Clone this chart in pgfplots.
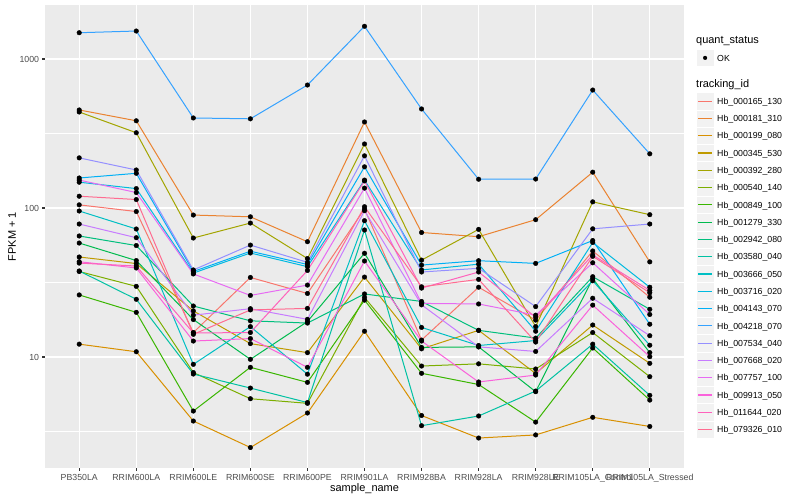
\documentclass[border=0pt]{standalone}
\usepackage{fontspec}
\setmainfont{Liberation Sans}
\usepackage{pgfplots}
\usepackage{pgfplotstable}
\pgfplotsset{compat=1.18}

% ggplot hue palette, 20 levels
\definecolor{c1}{HTML}{F8766D}
\definecolor{c2}{HTML}{EA8331}
\definecolor{c3}{HTML}{D89000}
\definecolor{c4}{HTML}{C09B00}
\definecolor{c5}{HTML}{A3A500}
\definecolor{c6}{HTML}{7CAE00}
\definecolor{c7}{HTML}{39B600}
\definecolor{c8}{HTML}{00BB4E}
\definecolor{c9}{HTML}{00BF7D}
\definecolor{c10}{HTML}{00C1A3}
\definecolor{c11}{HTML}{00BFC4}
\definecolor{c12}{HTML}{00BAE0}
\definecolor{c13}{HTML}{00B0F6}
\definecolor{c14}{HTML}{35A2FF}
\definecolor{c15}{HTML}{9590FF}
\definecolor{c16}{HTML}{C77CFF}
\definecolor{c17}{HTML}{E76BF3}
\definecolor{c18}{HTML}{FA62DB}
\definecolor{c19}{HTML}{FF62BC}
\definecolor{c20}{HTML}{FF6C91}
\definecolor{panelbg}{HTML}{EBEBEB}
\definecolor{keybg}{HTML}{F2F2F2}
\definecolor{txtgrey}{HTML}{4D4D4D}
\definecolor{tickgrey}{HTML}{333333}

% FPKM + 1, one row per sample, one column per tracking_id
\pgfplotstableread{
x S1 S2 S3 S4 S5 S6 S7 S8 S9 S10 S11 S12 S13 S14 S15 S16 S17 S18 S19 S20
0 105 455 12.2 46.9 441 37.5 26.1 58.2 64.9 37.8 95.5 149 159 1501 217 78.1 154 43.6 42.7 120
1 94.7 385 10.85 42.4 320 29.8 19.95 44.4 56.0 24.4 72.3 135 171 1541 180 63.2 127 39.6 40.8 114
2 14.6 89.7 3.72 20.4 62.9 7.87 4.34 17.85 22.0 7.69 8.93 36.6 37.5 402 38.4 19.1 36.1 12.8 14.5 14.2
3 34.2 87.3 2.47 12.3 79.3 5.25 8.53 9.65 17.5 6.19 16.0 49.9 51.3 397 56.4 21.1 25.9 13.3 14.6 20.7
4 26.7 59.4 4.21 10.7 45.8 4.89 6.76 17.3 16.9 4.95 7.67 40.4 41.8 669 43.2 17.9 30.4 8.53 38.1 21.2
5 98.5 378 14.9 34.4 269 25.1 24.1 49.7 26.5 71.2 82.2 154 189 1658 224 95.9 136 44.1 152 102
6 13.0 68.5 4.05 11.35 44.7 8.70 7.78 11.6 23.6 3.46 15.8 38.4 41.4 462 37.2 22.4 22.9 12.8 29.0 29.6
7 29.4 64.2 2.86 15.1 71.9 9.0 6.54 11.7 15.1 4.02 11.95 42.0 44.3 156 39.4 11.7 22.7 6.80 37.2 33.2
8 17.7 83.5 3.0 7.75 16.0 8.31 3.66 5.85 13.4 5.91 12.9 14.9 42.5 156.5 21.8 10.9 19.1 7.57 18.5 12.6
9 51.5 174 3.94 16.4 110 14.6 11.5 33.6 34.6 12.2 32.5 58.7 60.5 619 72.5 24.8 42.9 22.3 48.4 47.4
10 25.2 43.5 3.42 9.07 90.2 7.38 5.14 10.7 20.9 5.53 12.0 29.4 16.6 231 78.1 13.9 19.3 10.05 28.0 27.0
}\fpkm

\begin{document}
\begin{tikzpicture}[x=1bp,y=1bp]
\fill[white] (0,0) rectangle (800,500);
\begin{axis}[
  at={(45bp,32bp)}, anchor=south west,
  scale only axis, width=639bp, height=463bp,
  ymode=log, ymin=1.8, ymax=2304,
  xmin=-0.6, xmax=10.6,
  xtick={0,...,10},
  xticklabels={PB350LA,RRIM600LA,RRIM600LE,RRIM600SE,RRIM600PE,RRIM901LA,RRIM928BA,RRIM928LA,RRIM928LE,RRIM105LA\_Control,RRIM105LA\_Stressed},
  ytick={10,100,1000}, yticklabels={10,100,1000},
  minor ytick={3.16228,31.6228,316.228},
  grid=both,
  major grid style={white, line width=1.07bp},
  minor grid style={white, line width=0.53bp},
  axis background/.style={fill=panelbg},
  axis line style={draw=none},
  tick align=outside, tick pos=left,
  major tick length=2.75bp, minor tick length=0pt,
  tick style={tickgrey, line width=1.07bp},
  xticklabel shift=3bp, yticklabel shift=3bp,
  xticklabel style={font=\fontsize{8.8}{10}\selectfont, text=txtgrey, inner sep=0pt, anchor=north, text height=6.3bp},
  yticklabel style={font=\fontsize{8.8}{10}\selectfont, text=txtgrey, inner sep=0pt, anchor=east},
  xlabel={sample\_name}, ylabel={FPKM + 1},
  xlabel style={font=\fontsize{11}{13}\selectfont, inner sep=0pt, at={(axis description cs:0.5,0)}, anchor=base, yshift=-24bp},
  ylabel style={font=\fontsize{11}{13}\selectfont, inner sep=0pt, at={(axis description cs:-0.0454,0.5)}, anchor=base},
  clip=false,
]
\pgfplotsinvokeforeach{1,...,20}{
  \addplot[color=c#1, line width=1bp, no markers] table[x=x, y=S#1] {\fpkm};
}
\pgfplotsinvokeforeach{1,...,20}{
  \addplot[only marks, mark=*, mark size=2.3bp, black] table[x=x, y=S#1] {\fpkm};
}
\end{axis}

% legend
\node[anchor=base west, inner sep=0pt, font=\fontsize{11}{13}\selectfont] at (696,456.7) {quant\_status};
\filldraw[fill=keybg, draw=white, line width=0.5bp] (696.5,433.5) rectangle (713.8,450.8);
\fill[black] (705.1,442.1) circle (2.1);
\node[anchor=base west, inner sep=0pt, font=\fontsize{8.8}{10}\selectfont] at (717,438.9) {OK};
\node[anchor=base west, inner sep=0pt, font=\fontsize{11}{13}\selectfont] at (696,412.5) {tracking\_id};
\foreach \lab [count=\i] in {Hb\_000165\_130,Hb\_000181\_310,Hb\_000199\_080,Hb\_000345\_530,Hb\_000392\_280,Hb\_000540\_140,Hb\_000849\_100,Hb\_001279\_330,Hb\_002942\_080,Hb\_003580\_040,Hb\_003666\_050,Hb\_003716\_020,Hb\_004143\_070,Hb\_004218\_070,Hb\_007534\_040,Hb\_007668\_020,Hb\_007757\_100,Hb\_009913\_050,Hb\_011644\_020,Hb\_079326\_010}{
  \pgfmathsetmacro{\yc}{500-101.2-17.28*(\i-1)}
  \filldraw[fill=keybg, draw=white, line width=0.5bp] (696.5,\yc-8.64) rectangle (713.8,\yc+8.64);
  \draw[color=c\i, line width=1.2bp] (698.2,\yc) -- (712.1,\yc);
  \node[anchor=base west, inner sep=0pt, font=\fontsize{8.8}{10}\selectfont] at (717,\yc-3.2) {\lab};
}
\end{tikzpicture}
\end{document}
